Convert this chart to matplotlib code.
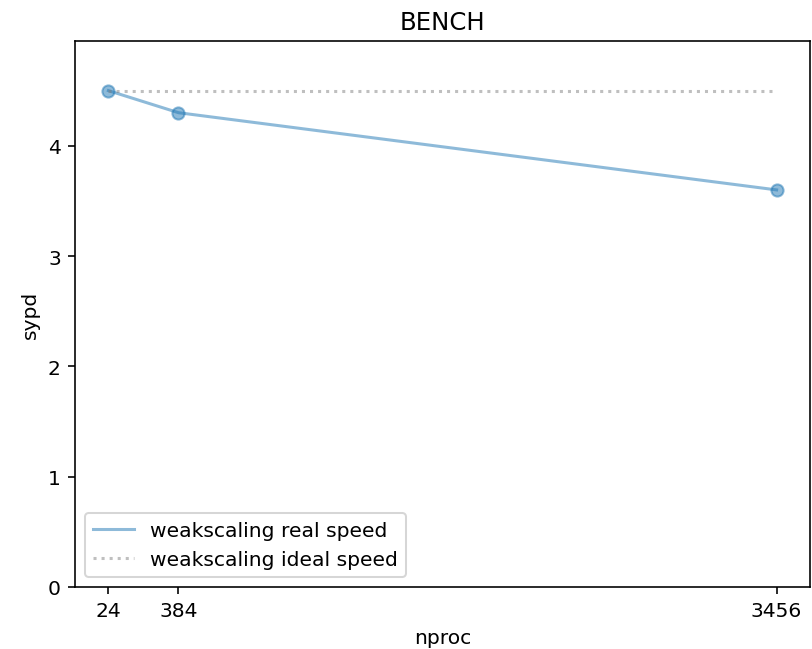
import numpy as np
import matplotlib.pyplot as plt

nproc = [24, 384, 3456]
sypd_real = [4.5, 4.3, 3.6]
sypd_ideal = [4.5, 4.5, 4.5]

if __name__ == '__main__':
    dpi = 146
    fig = plt.figure(figsize=(812 / dpi, 650 / dpi), dpi=dpi)
    ax = fig.add_axes([75 / 812, 62 / 650, 735 / 812, 546 / 650])

    ax.plot(nproc, sypd_real, color='C0', alpha=0.5, label='weakscaling real speed')
    ax.scatter(nproc, sypd_real, color='C0', alpha=0.5)
    ax.plot(nproc, sypd_ideal, color='grey', alpha=0.5, linestyle=':', label='weakscaling ideal speed')

    ax.set_ylim(0, max(sypd_real) * 1.1)
    ax.set_xticks(nproc)
    ax.set_xlabel('nproc')
    ax.set_ylabel('sypd')
    ax.set_title('BENCH')
    ax.legend(loc='lower left')

    fig.savefig('out.png', dpi=dpi)
